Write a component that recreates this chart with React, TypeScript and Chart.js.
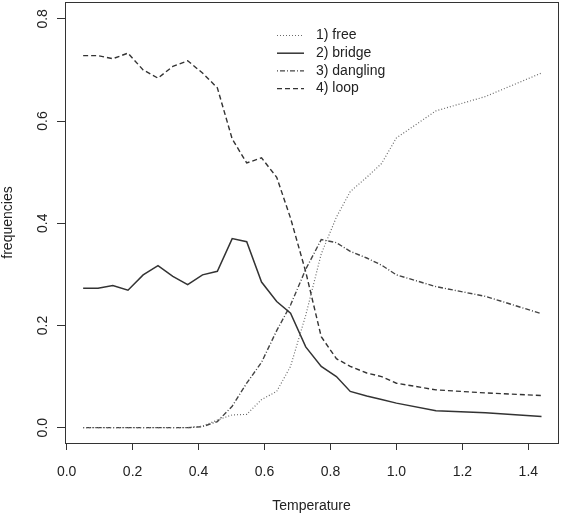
import React, { useEffect, useRef } from "react";
import { Chart, registerables } from "chart.js";

Chart.register(...registerables);

// ---- data ----
const temperatures = [
  0.05, 0.095, 0.14, 0.186, 0.232, 0.277, 0.322, 0.367, 0.412, 0.457,
  0.502, 0.546, 0.591, 0.637, 0.679, 0.725, 0.772, 0.818, 0.86, 0.91,
  0.955, 1.0, 1.12, 1.27, 1.44,
];
const freeFreq = [
  0, 0, 0, 0, 0, 0, 0, 0, 0.003, 0.015,
  0.025, 0.026, 0.055, 0.071, 0.12, 0.22, 0.34, 0.412, 0.462, 0.49,
  0.517, 0.567, 0.62, 0.648, 0.694,
];
const bridgeFreq = [
  0.273, 0.273, 0.278, 0.269, 0.299, 0.317, 0.296, 0.28, 0.299, 0.306,
  0.37, 0.364, 0.285, 0.247, 0.224, 0.158, 0.12, 0.1, 0.071, 0.062,
  0.055, 0.048, 0.033, 0.029, 0.022,
];
const danglingFreq = [
  0, 0, 0, 0, 0, 0, 0, 0, 0.002, 0.012,
  0.042, 0.087, 0.128, 0.19, 0.24, 0.31, 0.368, 0.362, 0.345, 0.332,
  0.318, 0.299, 0.276, 0.257, 0.223,
];
const loopFreq = [
  0.728, 0.728, 0.722, 0.733, 0.7, 0.684, 0.707, 0.718, 0.694, 0.665,
  0.565, 0.518, 0.528, 0.49, 0.41, 0.305, 0.178, 0.135, 0.12, 0.107,
  0.1, 0.087, 0.074, 0.068, 0.063,
];
const seriesLabels = ["1) free", "2) bridge", "3) dangling", "4) loop"];
const xTickValues = [0, 0.2, 0.4, 0.6, 0.8, 1.0, 1.2, 1.4];
const yTickValues = [0, 0.2, 0.4, 0.6, 0.8];
const xTitle = "Temperature";
const yTitle = "frequencies";

const FONT = '"Liberation Sans", Arial, Helvetica, sans-serif';
const INK = "#222";

const toPoints = (ys: number[]) => ys.map((y, i) => ({ x: temperatures[i], y }));

const rPlotPlugin = {
  id: "rPlot",
  afterDraw(chart: any) {
    const { ctx, chartArea } = chart;
    const { left, top, right, bottom } = chartArea;
    ctx.save();
    // box around plot region
    ctx.strokeStyle = "#333";
    ctx.lineWidth = 1;
    ctx.setLineDash([]);
    ctx.strokeRect(Math.round(left) + 0.5, Math.round(top) + 0.5, Math.round(right - left), Math.round(bottom - top));

    // rotated y tick labels (R style)
    const yScale = chart.scales.y;
    ctx.fillStyle = INK;
    ctx.font = `14px ${FONT}`;
    ctx.textAlign = "center";
    ctx.textBaseline = "alphabetic";
    yTickValues.forEach((v) => {
      const py = yScale.getPixelForValue(v);
      ctx.save();
      ctx.translate(47, py);
      ctx.rotate(-Math.PI / 2);
      ctx.fillText(v.toFixed(1), 0, 0);
      ctx.restore();
    });

    // legend (no box)
    const lx0 = left + 212;
    const lx1 = left + 239;
    const tx = left + 251;
    chart.data.datasets.forEach((ds: any, i: number) => {
      const y = top + 33.5 + i * 17.7;
      ctx.strokeStyle = ds.borderColor;
      ctx.lineWidth = ds.borderWidth;
      ctx.setLineDash(ds.borderDash || []);
      ctx.beginPath();
      ctx.moveTo(lx0, y);
      ctx.lineTo(lx1, y);
      ctx.stroke();
      ctx.setLineDash([]);
      ctx.fillStyle = INK;
      ctx.textAlign = "left";
      ctx.textBaseline = "middle";
      ctx.fillText(ds.label, tx, y);
    });
    ctx.restore();
  },
};

export default function App() {
  const canvasRef = useRef<HTMLCanvasElement | null>(null);

  useEffect(() => {
    const canvas = canvasRef.current;
    if (!canvas) return;
    const chart = new Chart(canvas, {
      type: "line",
      data: {
        datasets: [
          {
            label: seriesLabels[0],
            data: toPoints(freeFreq),
            borderColor: "#6a6a6a",
            borderWidth: 1.2,
            borderDash: [1, 2],
          },
          {
            label: seriesLabels[1],
            data: toPoints(bridgeFreq),
            borderColor: "#333",
            borderWidth: 1.5,
            borderDash: [],
          },
          {
            label: seriesLabels[2],
            data: toPoints(danglingFreq),
            borderColor: "#444",
            borderWidth: 1.4,
            borderDash: [1, 2, 5, 2],
          },
          {
            label: seriesLabels[3],
            data: toPoints(loopFreq),
            borderColor: "#333",
            borderWidth: 1.4,
            borderDash: [5, 3],
          },
        ],
      },
      options: {
        animation: false,
        responsive: false,
        maintainAspectRatio: false,
        parsing: true,
        elements: { point: { radius: 0 }, line: { tension: 0, fill: false } },
        layout: { padding: { left: 0, top: 2, right: 4, bottom: 0 } },
        plugins: { legend: { display: false }, tooltip: { enabled: false } },
        scales: {
          x: {
            type: "linear",
            min: -0.005,
            max: 1.49,
            afterBuildTicks: (s: any) => {
              s.ticks = xTickValues.map((v) => ({ value: v }));
            },
            afterFit: (s: any) => {
              s.height = 74;
            },
            grid: { drawOnChartArea: false, drawTicks: true, tickLength: 7, color: "#333", lineWidth: 1 },
            border: { display: false },
            ticks: {
              padding: 14,
              maxRotation: 0,
              minRotation: 0,
              color: INK,
              font: { family: FONT, size: 14 },
              callback: (v: any) => Number(v).toFixed(1),
            },
            title: {
              display: true,
              text: xTitle,
              color: INK,
              font: { family: FONT, size: 14 },
              padding: { top: 0, bottom: 2 },
            },
          },
          y: {
            type: "linear",
            min: -0.03,
            max: 0.833,
            afterBuildTicks: (s: any) => {
              s.ticks = yTickValues.map((v) => ({ value: v }));
            },
            afterFit: (s: any) => {
              s.width = 65;
            },
            grid: { drawOnChartArea: false, drawTicks: true, tickLength: 8, color: "#333", lineWidth: 1 },
            border: { display: false },
            ticks: { display: false },
            title: {
              display: true,
              text: yTitle,
              color: INK,
              font: { family: FONT, size: 14 },
              padding: 0,
            },
          },
        },
      } as any,
      plugins: [rPlotPlugin],
    });
    return () => chart.destroy();
  }, []);

  return (
    <div style={{ position: "absolute", left: 0, top: 0, width: 562, height: 517, background: "#fff" }}>
      <canvas ref={canvasRef} width={562} height={517} style={{ display: "block" }} />
    </div>
  );
}
